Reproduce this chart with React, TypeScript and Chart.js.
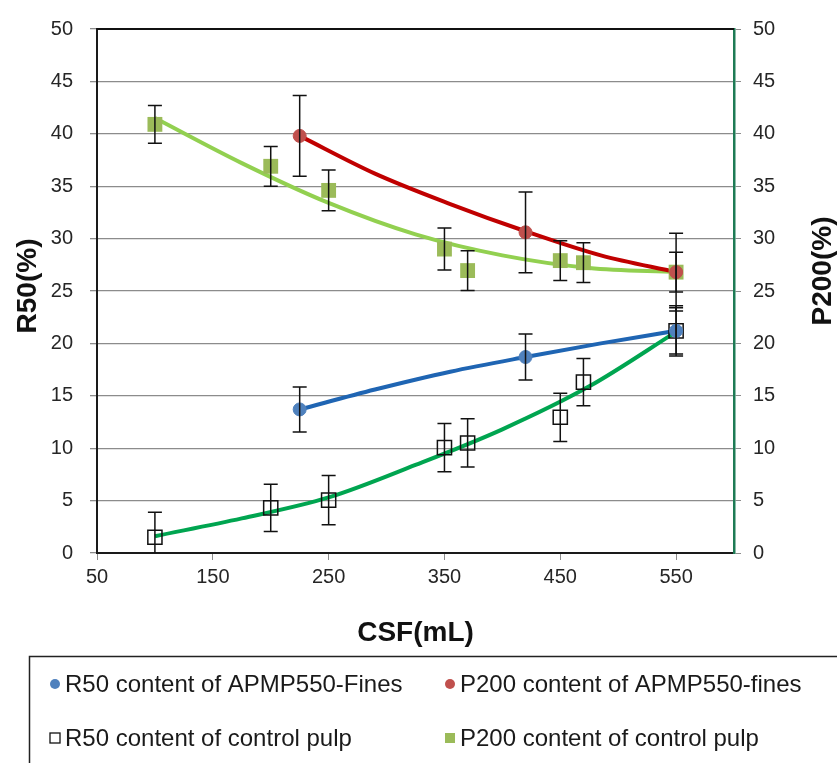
import React, { useEffect, useRef } from 'react';
import { Chart, registerables } from 'chart.js';

Chart.register(...registerables);

// ---- axis ticks ----
const xTicks = [50, 150, 250, 350, 450, 550];
const yTicks = [0, 5, 10, 15, 20, 25, 30, 35, 40, 45, 50];

// ---- APMP550 fines ----
const csfApmp = [225, 420, 550];
const r50Apmp = [13.7, 18.7, 21.2];
const r50ApmpErr = [2.15, 2.2, 2.2];
const p200Apmp = [39.8, 30.6, 26.8];
const p200ApmpErr = [3.85, 3.85, 1.9];

// ---- control pulp ----
const csfControl = [100, 200, 250, 350, 370, 450, 470, 550];
const r50Control = [1.5, 4.3, 5.05, 10.05, 10.5, 12.95, 16.3, 21.2];
const r50ControlErr = [2.4, 2.25, 2.35, 2.3, 2.3, 2.3, 2.25, 2.4];
const p200Control = [40.9, 36.9, 34.6, 29.0, 26.95, 27.9, 27.7, 26.8];
const p200ControlErr = [1.8, 1.9, 1.95, 2.0, 1.9, 1.9, 1.9, 3.7];

// ---- trend lines ----
const trendApmpX = [225, 290, 355, 420, 485, 550];
const r50ApmpTrend = [13.7, 15.6, 17.3, 18.7, 20.0, 21.2];
const p200ApmpTrend = [39.8, 36.2, 33.3, 30.7, 28.4, 26.8];
const trendControlX = [100, 175, 250, 325, 400, 475, 550];
const r50ControlTrend = [1.6, 3.3, 5.3, 8.4, 11.8, 15.9, 21.1];
const p200ControlTrend = [41.5, 37.2, 33.4, 30.4, 28.4, 27.2, 26.8];

const labels = [
  'R50 content of APMP550-Fines',
  'P200 content of APMP550-fines',
  'R50 content of control pulp',
  'P200 content of control pulp',
];

const FONT = "'Liberation Sans', Arial, sans-serif";

const pts = (xs: number[], ys: number[]) => xs.map((x, i) => ({ x, y: ys[i] }));

const errorSeries = [
  { xs: csfApmp, ys: r50Apmp, es: r50ApmpErr },
  { xs: csfApmp, ys: p200Apmp, es: p200ApmpErr },
  { xs: csfControl, ys: r50Control, es: r50ControlErr },
  { xs: csfControl, ys: p200Control, es: p200ControlErr },
];

const overlay = {
  id: 'overlay',
  afterDatasetsDraw(chart: any) {
    const { ctx, chartArea } = chart;
    const xs = chart.scales.x;
    const ys = chart.scales.y;
    // top frame line
    ctx.save();
    ctx.strokeStyle = '#111';
    ctx.lineWidth = 2;
    ctx.beginPath();
    ctx.moveTo(chartArea.left, chartArea.top);
    ctx.lineTo(chartArea.right, chartArea.top);
    ctx.stroke();
    ctx.restore();
    // error bars
    ctx.save();
    ctx.beginPath();
    ctx.rect(chartArea.left, chartArea.top, chartArea.right - chartArea.left, chartArea.bottom - chartArea.top);
    ctx.clip();
    ctx.strokeStyle = '#111';
    ctx.lineWidth = 1.5;
    errorSeries.forEach((s) => {
      s.xs.forEach((xv, i) => {
        const px = xs.getPixelForValue(xv);
        const top = ys.getPixelForValue(s.ys[i] + s.es[i]);
        const bot = ys.getPixelForValue(s.ys[i] - s.es[i]);
        ctx.beginPath();
        ctx.moveTo(px, top);
        ctx.lineTo(px, bot);
        ctx.moveTo(px - 7, top);
        ctx.lineTo(px + 7, top);
        ctx.moveTo(px - 7, bot);
        ctx.lineTo(px + 7, bot);
        ctx.stroke();
      });
    });
    ctx.restore();
  },
  afterDraw(chart: any) {
    const { ctx } = chart;
    ctx.save();
    ctx.fillStyle = '#111';
    ctx.font = `bold 28px ${FONT}`;
    ctx.textAlign = 'center';
    ctx.textBaseline = 'middle';
    ctx.fillText('CSF(mL)', 415.5, 633);
    ctx.save();
    ctx.translate(28, 286);
    ctx.rotate(-Math.PI / 2);
    ctx.fillText('R50(%)', 0, 0);
    ctx.restore();
    ctx.save();
    ctx.translate(823, 271);
    ctx.rotate(-Math.PI / 2);
    ctx.fillText('P200(%)', 0, 0);
    ctx.restore();

    // legend box
    ctx.strokeStyle = '#222';
    ctx.lineWidth = 1.5;
    ctx.strokeRect(29.5, 656.5, 840, 140);

    ctx.font = `24px ${FONT}`;
    ctx.textAlign = 'left';
    ctx.fillStyle = '#1a1a1a';
    const rows = [
      { x: 55, y: 684, kind: 'dot', color: '#4f81bd', label: labels[0] },
      { x: 450, y: 684, kind: 'dot', color: '#c0504d', label: labels[1] },
      { x: 55, y: 738, kind: 'hollow', color: '#111', label: labels[2] },
      { x: 450, y: 738, kind: 'square', color: '#9bbb59', label: labels[3] },
    ];
    rows.forEach((r) => {
      if (r.kind === 'dot') {
        ctx.fillStyle = r.color;
        ctx.beginPath();
        ctx.arc(r.x, r.y, 5, 0, Math.PI * 2);
        ctx.fill();
      } else if (r.kind === 'hollow') {
        ctx.strokeStyle = r.color;
        ctx.lineWidth = 1.3;
        ctx.strokeRect(r.x - 5, r.y - 5, 10, 10);
      } else {
        ctx.fillStyle = r.color;
        ctx.fillRect(r.x - 5, r.y - 5, 10, 10);
      }
      ctx.fillStyle = '#1a1a1a';
      ctx.fillText(r.label, r.x + 10, r.y + 1);
    });
    ctx.restore();
  },
};

export default function App() {
  const ref = useRef<HTMLCanvasElement>(null);
  useEffect(() => {
    const canvas = ref.current;
    if (!canvas) return;
    const tickFont = { family: FONT, size: 20 };
    const trend = (label: string, xs: number[], ys: number[], axis: string, color: string) => ({
      label,
      data: pts(xs, ys),
      yAxisID: axis,
      showLine: true,
      pointRadius: 0,
      borderColor: color,
      borderWidth: 4,
      cubicInterpolationMode: 'monotone',
    });
    const chart = new Chart(canvas, {
      type: 'scatter',
      data: {
        datasets: [
          {
            label: labels[0],
            data: pts(csfApmp, r50Apmp),
            yAxisID: 'y',
            pointStyle: 'circle',
            pointRadius: 6.5,
            backgroundColor: '#4f81bd',
            borderColor: '#4f81bd',
            borderWidth: 1,
          },
          {
            label: labels[1],
            data: pts(csfApmp, p200Apmp),
            yAxisID: 'y2',
            pointStyle: 'circle',
            pointRadius: 6.5,
            backgroundColor: '#c0504d',
            borderColor: '#c0504d',
            borderWidth: 1,
          },
          {
            label: labels[2],
            data: pts(csfControl, r50Control),
            yAxisID: 'y',
            pointStyle: 'rect',
            pointRadius: 10,
            backgroundColor: 'rgba(0,0,0,0)',
            borderColor: '#111',
            borderWidth: 1.5,
          },
          {
            label: labels[3],
            data: pts(csfControl, p200Control),
            yAxisID: 'y2',
            pointStyle: 'rect',
            pointRadius: 10.5,
            backgroundColor: '#9bbb59',
            borderColor: '#9bbb59',
            borderWidth: 0,
          },
          trend('R50 APMP trend', trendApmpX, r50ApmpTrend, 'y', '#1f65b3'),
          trend('P200 APMP trend', trendApmpX, p200ApmpTrend, 'y2', '#c00000'),
          trend('R50 control trend', trendControlX, r50ControlTrend, 'y', '#00a550'),
          trend('P200 control trend', trendControlX, p200ControlTrend, 'y2', '#92d050'),
        ],
      },
      options: {
        animation: false,
        responsive: false,
        devicePixelRatio: 1,
        layout: { padding: { top: 20, left: 0, right: 0, bottom: 0 } },
        plugins: { legend: { display: false }, tooltip: { enabled: false } },
        scales: {
          x: {
            type: 'linear',
            min: 50,
            max: 600,
            afterBuildTicks: (s: any) => {
              s.ticks = xTicks.map((v) => ({ value: v }));
            },
            afterFit: (s: any) => {
              s.height = 210;
            },
            grid: { drawOnChartArea: false, drawTicks: true, tickLength: 7, color: '#8c8c8c' },
            border: { display: true, color: '#1a1a1a', width: 2 },
            ticks: { font: tickFont, color: '#262626', padding: 5, maxRotation: 0, autoSkip: false },
          },
          y: {
            position: 'left',
            min: 0,
            max: 50,
            afterBuildTicks: (s: any) => {
              s.ticks = yTicks.map((v) => ({ value: v }));
            },
            afterFit: (s: any) => {
              s.width = 97;
            },
            grid: { color: '#8c8c8c', lineWidth: 1.3, drawTicks: true, tickLength: 7 },
            border: { display: true, color: '#1a1a1a', width: 2 },
            ticks: { font: tickFont, color: '#262626', padding: 17, autoSkip: false },
          },
          y2: {
            position: 'right',
            min: 0,
            max: 50,
            afterBuildTicks: (s: any) => {
              s.ticks = yTicks.map((v) => ({ value: v }));
            },
            afterFit: (s: any) => {
              s.width = 103;
            },
            grid: { drawOnChartArea: false, drawTicks: true, tickLength: 7, color: '#8c8c8c' },
            border: { display: true, color: '#1e7b55', width: 2.5 },
            ticks: { font: tickFont, color: '#262626', padding: 12, autoSkip: false },
          },
        },
      },
      plugins: [overlay],
    } as any);
    return () => chart.destroy();
  }, []);
  return (
    <div style={{ position: 'absolute', left: 0, top: 0, width: 837, height: 763, background: '#fff' }}>
      <canvas ref={ref} width={837} height={763} style={{ display: 'block', width: 837, height: 763 }} />
    </div>
  );
}
